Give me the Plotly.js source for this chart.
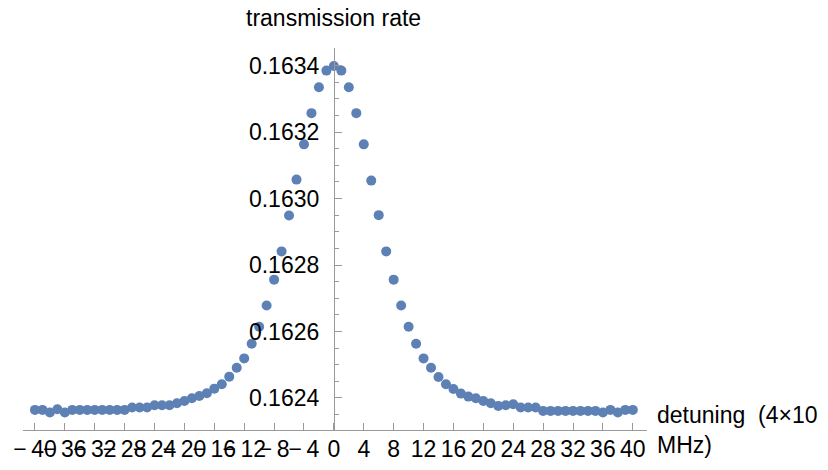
<!DOCTYPE html>
<html>
<head>
<meta charset="utf-8">
<script src="https://cdn.plot.ly/plotly-3.0.1.min.js"></script>
<style>
  html, body { margin: 0; padding: 0; background: #ffffff; }
  #chart { width: 828px; height: 470px; }
</style>
</head>
<body>
<div id="chart"></div>
<script>
// Detuning steps (units of 4×10 MHz)
const detuning = [
  -40, -39, -38, -37, -36, -35, -34, -33, -32, -31,
  -30, -29, -28, -27, -26, -25, -24, -23, -22, -21,
  -20, -19, -18, -17, -16, -15, -14, -13, -12, -11,
  -10, -9, -8, -7, -6, -5, -4, -3, -2, -1,
  0,
  1, 2, 3, 4, 5, 6, 7, 8, 9, 10,
  11, 12, 13, 14, 15, 16, 17, 18, 19, 20,
  21, 22, 23, 24, 25, 26, 27, 28, 29, 30,
  31, 32, 33, 34, 35, 36, 37, 38, 39, 40
];

// Measured transmission rate at each detuning
const transmission = [
  0.162364, 0.162364, 0.162356, 0.162366, 0.162356, 0.162364, 0.162364, 0.162364, 0.162364, 0.162364,
  0.162364, 0.162364, 0.162364, 0.162371, 0.162371, 0.162371, 0.162378, 0.162378, 0.162378, 0.162384,
  0.162391, 0.162399, 0.162406, 0.162414, 0.162428, 0.162441, 0.162464, 0.162491, 0.162519, 0.162563,
  0.162614, 0.162678, 0.162756, 0.162841, 0.162949, 0.163057, 0.163163, 0.163257, 0.163335, 0.163385,
  0.163399,
  0.163385, 0.163335, 0.163257, 0.163163, 0.163054, 0.162950, 0.162841, 0.162756, 0.162678, 0.162614,
  0.162563, 0.162519, 0.162491, 0.162463, 0.162441, 0.162427, 0.162413, 0.162404, 0.162399, 0.162391,
  0.162384, 0.162376, 0.162378, 0.162381, 0.162371, 0.162371, 0.162371, 0.162361, 0.162361, 0.162361,
  0.162361, 0.162361, 0.162361, 0.162361, 0.162361, 0.162356, 0.162364, 0.162356, 0.162364, 0.162364
];

// Detuning axis ticks and their labels (minus sign set slightly apart)
const xTickVals = [-40, -36, -32, -28, -24, -20, -16, -12, -8, -4, 0, 4, 8, 12, 16, 20, 24, 28, 32, 36, 40];
const xTickText = [
  '\u2212\u200940', '\u2212\u200936', '\u2212\u200932', '\u2212\u200928', '\u2212\u200924',
  '\u2212\u200920', '\u2212\u200916', '\u2212\u200912', '\u2212\u20098', '\u2212\u20094',
  '0', '4', '8', '12', '16', '20', '24', '28', '32', '36', '40'
];

const yTitle = 'transmission rate';
const xTitleLines = ['detuning\u00a0\u00a0(4×10', 'MHz)'];

const axisGray = '#9a9a9a';
const fontFamily = '"Liberation Sans", Arial, sans-serif';
const xRange = [-41.6, 41.9];
const yRange = [0.1623035, 0.163453];

const trace = {
  type: 'scatter',
  mode: 'markers',
  x: detuning,
  y: transmission,
  marker: { color: '#5E81B5', size: 10, line: { width: 0 } },
  hoverinfo: 'x+y',
  showlegend: false
};

const layout = {
  width: 828,
  height: 470,
  margin: { l: 23, r: 181, t: 48, b: 40, pad: 0 },
  paper_bgcolor: '#ffffff',
  plot_bgcolor: '#ffffff',
  font: { family: fontFamily, size: 23, color: '#000000' },
  showlegend: false,
  xaxis: {
    range: xRange,
    domain: [0, 1],
    showgrid: false,
    zeroline: false,
    showline: true,
    linecolor: axisGray,
    linewidth: 1,
    tickmode: 'array',
    tickvals: xTickVals,
    ticktext: xTickText,
    ticks: 'inside',
    ticklen: 7,
    tickwidth: 1,
    tickcolor: axisGray,
    tickangle: 0,
    ticklabelstandoff: -2,
    tickfont: { family: fontFamily, size: 23, color: '#000000' },
    anchor: 'y'
  },
  yaxis: {
    range: yRange,
    showgrid: false,
    zeroline: false,
    showline: true,
    linecolor: axisGray,
    linewidth: 1,
    anchor: 'free',
    position: (0 - xRange[0]) / (xRange[1] - xRange[0]),
    side: 'left',
    tickmode: 'linear',
    tick0: 0.1624,
    dtick: 0.0002,
    tickformat: '.4f',
    ticks: 'inside',
    ticklen: 7,
    tickwidth: 1,
    tickcolor: axisGray,
    ticklabelstandoff: 10,
    tickfont: { family: fontFamily, size: 23, color: '#000000' },
    minor: {
      tick0: 0.1624,
      dtick: 0.00005,
      ticks: 'inside',
      ticklen: 4,
      tickwidth: 1,
      tickcolor: axisGray,
      showgrid: false
    }
  },
  annotations: [
    {
      text: yTitle,
      xref: 'x', yref: 'paper',
      x: 0, y: 1 + 30 / 382,
      xanchor: 'center', yanchor: 'middle',
      showarrow: false,
      font: { family: fontFamily, size: 23, color: '#000000' }
    },
    {
      text: xTitleLines.join('<br>'),
      xref: 'paper', yref: 'paper',
      x: (655 - 23) / 624, y: 0.0,
      xanchor: 'left', yanchor: 'middle',
      align: 'left',
      showarrow: false,
      font: { family: fontFamily, size: 23, color: '#000000' }
    }
  ]
};

Plotly.newPlot('chart', [trace], layout, { staticPlot: true, displayModeBar: false });
</script>
</body>
</html>
